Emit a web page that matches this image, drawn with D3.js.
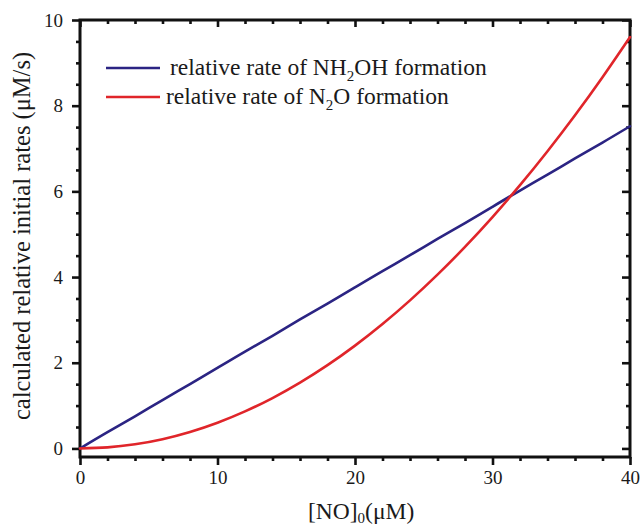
<!DOCTYPE html>
<html>
<head>
<meta charset="utf-8">
<script src="https://cdn.jsdelivr.net/npm/d3@7"></script>
<style>
  html, body { margin: 0; padding: 0; background: #fff; }
  svg { display: block; }
</style>
</head>
<body>
<svg id="chart" width="642" height="525"></svg>
<script>
// Initial NO concentration (µM)
const noConc = [0, 2, 4, 6, 8, 10, 12, 14, 16, 18, 20, 22, 24, 26, 28, 30, 32, 34, 36, 38, 40];
// Relative rate of NH2OH formation (µM/s)
const nh2ohRate = [0, 0.38, 0.75, 1.13, 1.50, 1.88, 2.26, 2.63, 3.01, 3.38, 3.76, 4.14, 4.51, 4.89, 5.26, 5.64, 6.02, 6.39, 6.77, 7.14, 7.52];
// Relative rate of N2O formation (µM/s)
const n2oRate = [0, 0.024, 0.096, 0.216, 0.384, 0.60, 0.864, 1.176, 1.536, 1.944, 2.40, 2.904, 3.456, 4.056, 4.704, 5.40, 6.144, 6.936, 7.776, 8.664, 9.60];

const xMajorTicks = [0, 10, 20, 30, 40];
const yMajorTicks = [0, 2, 4, 6, 8, 10];

const seriesNames = ["relative rate of NH2OH formation", "relative rate of N2O formation"];
const seriesColors = ["#2b2483", "#e0252a"];

const FONT = "Liberation Serif, Times New Roman, Times, serif";
const INK = "#1a1a1a";

const svg = d3.select("#chart");
const m = { left: 80, right: 12, top: 20, bottom: 68 };
const W = 642, H = 525;

const x = d3.scaleLinear().domain([0, 40]).range([m.left, W - m.right]);
const y = d3.scaleLinear().domain([-0.2, 10]).range([H - m.bottom, m.top]);

const xMinor = d3.range(0, 40.01, 2).filter(v => v % 10 !== 0);
const yMinor = d3.range(0, 10.01, 0.5).filter(v => Math.abs(v % 2) > 1e-9);

function styleAxis(g) {
  g.attr("font-family", FONT);
  g.select(".domain").remove();
  g.selectAll(".tick line").attr("stroke", "#111").attr("stroke-width", 2.6);
  g.selectAll(".tick text").attr("font-family", FONT).attr("font-size", 19).attr("fill", INK);
}

// bottom axis
const gBottom = svg.append("g").attr("transform", `translate(0,${y(-0.2)})`);
gBottom.call(d3.axisBottom(x).tickValues(xMajorTicks).tickSize(8).tickPadding(6).tickFormat(d3.format("d"))).call(styleAxis);
gBottom.append("g").call(d3.axisBottom(x).tickValues(xMinor).tickSize(4).tickFormat("")).call(styleAxis);

// top axis (mirror, inward ticks)
const gTop = svg.append("g").attr("transform", `translate(0,${y(10)})`);
gTop.call(d3.axisBottom(x).tickValues(xMajorTicks).tickSize(7).tickFormat("")).call(styleAxis);
gTop.append("g").call(d3.axisBottom(x).tickValues(xMinor).tickSize(4).tickFormat("")).call(styleAxis);

// left axis
const gLeft = svg.append("g").attr("transform", `translate(${x(0)},0)`);
gLeft.call(d3.axisLeft(y).tickValues(yMajorTicks).tickSize(8).tickPadding(9).tickFormat(d3.format("d"))).call(styleAxis);
gLeft.append("g").call(d3.axisLeft(y).tickValues(yMinor).tickSize(4).tickFormat("")).call(styleAxis);

// right axis (mirror, inward ticks)
const gRight = svg.append("g").attr("transform", `translate(${x(40)},0)`);
gRight.call(d3.axisLeft(y).tickValues(yMajorTicks).tickSize(8).tickFormat("")).call(styleAxis);
gRight.append("g").call(d3.axisLeft(y).tickValues(yMinor).tickSize(4).tickFormat("")).call(styleAxis);

// frame
svg.append("rect")
  .attr("x", x(0)).attr("y", y(10))
  .attr("width", x(40) - x(0)).attr("height", y(-0.2) - y(10))
  .attr("fill", "none").attr("stroke", "#111").attr("stroke-width", 3);

// series
const line = d3.line().x((d, i) => x(noConc[i])).y(d => y(d)).curve(d3.curveNatural);
[nh2ohRate, n2oRate].forEach((vals, i) => {
  svg.append("path")
    .attr("d", line(vals))
    .attr("fill", "none")
    .attr("stroke", seriesColors[i])
    .attr("stroke-width", 2.6)
    .attr("stroke-linecap", "round");
});

// legend
const legend = svg.append("g");
const legendRows = [
  { y: 68, tx: 170, parts: [["relative rate of NH", 0], ["2", 1], ["OH formation", 0]] },
  { y: 97, tx: 166, parts: [["relative rate of N", 0], ["2", 1], ["O formation", 0]] }
];
legendRows.forEach((r, i) => {
  legend.append("line")
    .attr("x1", 106).attr("x2", 160).attr("y1", r.y).attr("y2", r.y)
    .attr("stroke", seriesColors[i]).attr("stroke-width", 2.6);
  const t = legend.append("text").attr("x", r.tx).attr("y", r.y + 7)
    .attr("font-family", FONT).attr("font-size", 23.5).attr("fill", INK);
  r.parts.forEach(([s, sub]) => {
    const ts = t.append("tspan").text(s);
    if (sub) ts.attr("dy", 6).attr("font-size", 15);
    else if (t.selectAll("tspan").size() > 1) ts.attr("dy", -6);
  });
});

// axis titles
const xt = svg.append("text").attr("x", 308).attr("y", 519)
  .attr("font-family", FONT).attr("font-size", 23.5).attr("fill", INK);
xt.append("tspan").text("[NO]");
xt.append("tspan").text("0").attr("dy", 4).attr("font-size", 15);
xt.append("tspan").text("(\u03bcM)").attr("dy", -4);

svg.append("text")
  .attr("transform", `translate(30,236) rotate(-90)`)
  .attr("text-anchor", "middle")
  .attr("font-family", FONT).attr("font-size", 24.5).attr("fill", INK)
  .text("calculated relative initial rates (\u03bcM/s)");
</script>
</body>
</html>
